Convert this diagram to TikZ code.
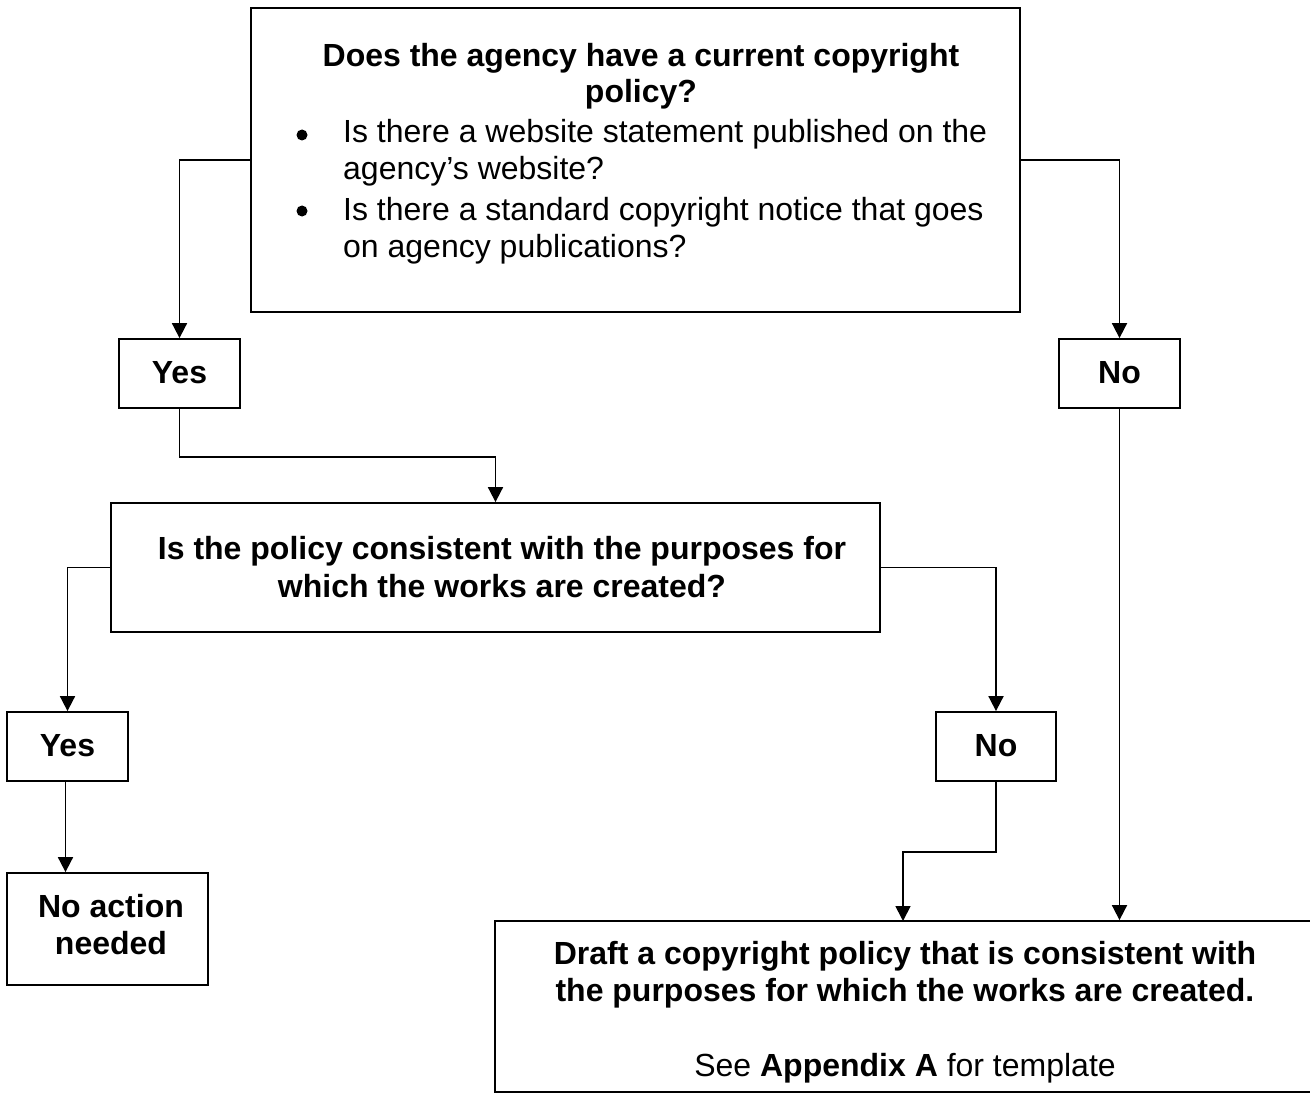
\documentclass[tikz,border=0pt]{standalone}
\usepackage{fontspec}
\setmainfont{Liberation Sans}
\usetikzlibrary{arrows.meta,calc}
\begin{document}
\begin{tikzpicture}[x=1pt,y=-1pt,
  box/.style={draw, line width=1.8pt, rectangle, inner sep=0pt},
  arr/.style={line width=1.8pt, -{Triangle[length=15pt,width=15pt]}},
  txt/.style={font=\fontsize{32}{37}\selectfont, anchor=base, inner sep=0pt},
  txtl/.style={txt, anchor=base west},
  btxt/.style={txt, font=\fontsize{32}{37}\selectfont\bfseries},
  bul/.style={circle, fill=black, minimum size=11pt, inner sep=0pt}]
\useasboundingbox (0,0) rectangle (1310,1097);
\fill[white] (0,0) rectangle (1310,1097);
\clip (0,0) rectangle (1310,1097);

% boxes
\node[box, minimum width=769pt, minimum height=304pt] (q1) at (635.5,160) {};
\node[box, minimum width=121pt, minimum height=69pt] (yes1) at (179.5,373.5) {};
\node[box, minimum width=121pt, minimum height=69pt] (no1) at (1119.5,373.5) {};
\node[box, minimum width=769pt, minimum height=129pt] (q2) at (495.5,567.5) {};
\node[box, minimum width=121pt, minimum height=69pt] (yes2) at (67.5,746.5) {};
\node[box, minimum width=120pt, minimum height=69pt] (no2) at (996,746.5) {};
\node[box, minimum width=201pt, minimum height=112pt] (na) at (107.5,929) {};
\node[box, minimum width=821pt, minimum height=171pt] (draft) at (905.5,1006.5) {};

% texts
\node[btxt] (q1a) at (641,67) {Does the agency have a current copyright};
\node[btxt] (q1b) at (641,103) {policy?};
\node[bul] (b1) at (302,135) {};
\node[txtl] (b1a) at (343,143) {Is there a website statement published on the};
\node[txtl] (b1b) at (343,180) {agency’s website?};
\node[bul] (b2) at (302,211) {};
\node[txtl] (b2a) at (343,220) {Is there a standard copyright notice that goes};
\node[txtl] (b2b) at (343,257) {on agency publications?};

\node[btxt] (y1t) at (179.5,383) {Yes};
\node[btxt] (n1t) at (1119.5,383) {No};

\node[btxt] (q2a) at (502,559) {Is the policy consistent with the purposes for};
\node[btxt] (q2b) at (502,597) {which the works are created?};

\node[btxt] (y2t) at (67.5,756) {Yes};
\node[btxt] (n2t) at (996,756) {No};

\node[btxt] (naa) at (111,917) {No action};
\node[btxt] (nab) at (111,954) {needed};

\node[btxt] (dra) at (905,964) {Draft a copyright policy that is consistent with};
\node[btxt] (drb) at (905,1001) {the purposes for which the works are created.};
\node[txt] (drc) at (905,1076) {See \textbf{Appendix A} for template};

% connectors
\draw[arr] (q1.west) -| (yes1.north);
\draw[arr] (q1.east) -| (no1.north);
\draw[arr] (yes1.south) -- ++(0,48) -| (q2.north);
\draw[arr] (no1.south) -- (no1.south |- draft.north);
\draw[arr] (q2.west) -| (yes2.north);
\draw[arr] (q2.east) -| (no2.north);
\draw[arr] ([xshift=-2pt]yes2.south) -- ([xshift=-2pt]yes2.south |- na.north);
\coordinate (din) at (903,921);
\draw[arr] (no2.south) -- ++(0,70) -| (din);
\end{tikzpicture}
\end{document}
